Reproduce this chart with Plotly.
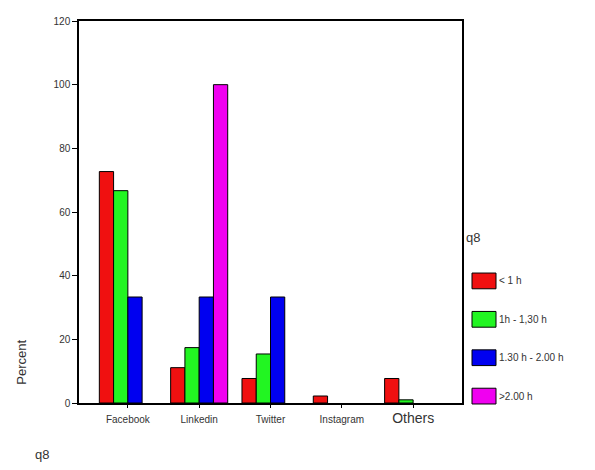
import plotly.graph_objects as go

categories = ["Facebook", "Linkedin", "Twitter", "Instagram", "Others"]
series_names = ["< 1 h", "1h - 1,30 h", "1.30 h - 2.00 h", ">2.00 h"]
under_1h = [72.7, 11.1, 7.7, 2.2, 7.7]
h1_to_130 = [66.7, 17.4, 15.4, None, 1.0]
h130_to_200 = [33.3, 33.3, 33.3, None, None]
over_200 = [None, 100, None, None, None]
y_ticks = [0, 20, 40, 60, 80, 100, 120]
legend_title = "q8"
x_title = "q8"
y_title = "Percent"

series = [under_1h, h1_to_130, h130_to_200, over_200]
colors = ["#F01010", "#22F522", "#0000F0", "#F000F0"]

FONT = "Liberation Sans, Arial, sans-serif"
OFF = 8  # page body margin offset
L, R, T, B = 79 - OFF, 462 - OFF, 15 - OFF, 403 - OFF
W, H = 595 - OFF, 470 - OFF

fig = go.Figure()
for name, vals, col in zip(series_names, series, colors):
    fig.add_trace(go.Bar(
        x=categories, y=vals, name=name,
        marker=dict(color=col, line=dict(color="black", width=1)),
        showlegend=False,
    ))

ticktext = [f"<span style='font-size:14px'>{c}</span>" if c == "Others" else c for c in categories]

fig.update_layout(
    width=W, height=H,
    margin=dict(l=L, r=W - R, t=T, b=H - B),
    paper_bgcolor="white", plot_bgcolor="white",
    barmode="group", bargap=0.2, bargroupgap=0,
    font=dict(family=FONT, size=10, color="#333"),
    xaxis=dict(
        type="category", range=[-0.685, len(categories) - 0.315],
        tickvals=categories, ticktext=ticktext,
        showline=True, linecolor="black", linewidth=1.5, mirror=True,
        ticks="outside", ticklen=3, tickcolor="black",
        ticklabelstandoff=3,
        tickfont=dict(size=10, color="#333"),
        showgrid=False, zeroline=False,
    ),
    yaxis=dict(
        range=[0, 120], tickvals=y_ticks,
        showline=True, linecolor="black", linewidth=1.5, mirror=True,
        ticks="outside", ticklen=5, tickcolor="black",
        tickfont=dict(size=10, color="#333"),
        showgrid=False, zeroline=False,
    ),
)

def px_x(p):
    return (p - OFF - L) / (R - L)

def px_y(p):
    return (B - (p - OFF)) / (B - T)

annotations = [
    dict(text=y_title, xref="paper", yref="paper", x=px_x(22), y=px_y(362),
         textangle=-90, showarrow=False, font=dict(size=13, color="#333"),
         xanchor="center", yanchor="middle"),
    dict(text=x_title, xref="paper", yref="paper", x=px_x(42), y=px_y(455),
         showarrow=False, font=dict(size=13, color="#333"),
         xanchor="center", yanchor="middle"),
    dict(text=legend_title, xref="paper", yref="paper", x=px_x(464), y=px_y(235),
         showarrow=False, font=dict(size=13, color="#333"),
         xanchor="left", yanchor="middle"),
]
shapes = []
for i, (name, col) in enumerate(zip(series_names, colors)):
    cy = 279 + i * 39
    shapes.append(dict(type="rect", xref="paper", yref="paper",
                       x0=px_x(472), x1=px_x(496), y0=px_y(cy - 8), y1=px_y(cy + 8),
                       fillcolor=col, line=dict(color="black", width=1)))
    annotations.append(dict(text=name, xref="paper", yref="paper",
                            x=px_x(497), y=px_y(cy), showarrow=False,
                            xanchor="left", yanchor="middle",
                            font=dict(size=10, color="#333")))

fig.update_layout(annotations=annotations, shapes=shapes)
fig.write_html("out.html")
